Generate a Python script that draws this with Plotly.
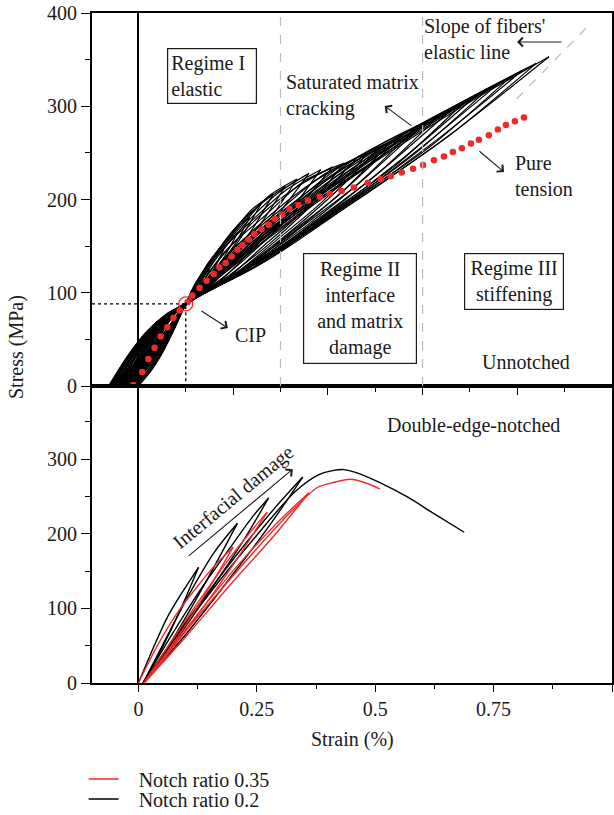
import plotly.graph_objects as go

FONT = "Liberation Serif"
INK = "#1a1a1a"

# ---------------- Unnotched (top panel) : hysteresis loops ----------------
# loading branches (residual strain -> peak), one cycle per line, None separates cycles
unnotched_load_strain = [
    0.000, 0.025, 0.050, 0.075, 0.1, 0.112, 0.125, 0.138, 0.150, None,
    -0.006, 0.021, 0.047, 0.074, 0.1, 0.128, 0.155, 0.183, 0.210, None,
    -0.012, 0.016, 0.044, 0.072, 0.1, 0.140, 0.180, 0.220, 0.260, None,
    -0.018, 0.012, 0.041, 0.071, 0.1, 0.153, 0.205, 0.258, 0.310, None,
    -0.024, 0.007, 0.038, 0.069, 0.1, 0.165, 0.230, 0.295, 0.360, None,
    -0.029, 0.003, 0.036, 0.068, 0.1, 0.178, 0.255, 0.333, 0.410, None,
    -0.034, -0.001, 0.033, 0.067, 0.1, 0.190, 0.280, 0.370, 0.460, None,
    -0.039, -0.004, 0.031, 0.065, 0.1, 0.203, 0.305, 0.408, 0.510, None,
    -0.043, -0.007, 0.029, 0.064, 0.1, 0.215, 0.330, 0.445, 0.560, None,
    -0.047, -0.011, 0.027, 0.063, 0.1, 0.228, 0.355, 0.483, 0.610, None,
    -0.051, -0.014, 0.025, 0.062, 0.1, 0.240, 0.380, 0.520, 0.660, None,
    -0.054, -0.017, 0.023, 0.062, 0.1, 0.253, 0.405, 0.558, 0.710, None,
    -0.057, -0.018, 0.022, 0.061, 0.1, 0.265, 0.430, 0.595, 0.760, None,
    -0.060, -0.020, 0.020, 0.060, 0.1, 0.278, 0.455, 0.633, 0.810, None,
    -0.063, -0.022, 0.019, 0.059, 0.1, 0.292, 0.484, 0.675, 0.867, None,
    # intermediate cycles
    -0.003, 0.023, 0.049, 0.074, 0.1, 0.120, 0.140, 0.160, 0.180, None,
    -0.009, 0.018, 0.046, 0.073, 0.1, 0.134, 0.168, 0.201, 0.235, None,
    -0.015, 0.014, 0.043, 0.071, 0.1, 0.146, 0.193, 0.239, 0.285, None,
    -0.021, 0.009, 0.040, 0.070, 0.1, 0.159, 0.218, 0.276, 0.335, None,
    -0.027, 0.005, 0.037, 0.068, 0.1, 0.171, 0.243, 0.314, 0.385, None,
    -0.032, 0.001, 0.034, 0.067, 0.1, 0.184, 0.268, 0.351, 0.435, None,
    -0.037, -0.003, 0.032, 0.066, 0.1, 0.196, 0.293, 0.389, 0.485, None,
    -0.041, -0.006, 0.030, 0.065, 0.1, 0.209, 0.318, 0.426, 0.535, None,
    -0.045, -0.009, 0.028, 0.064, 0.1, 0.221, 0.343, 0.464, 0.585, None,
    -0.049, -0.012, 0.026, 0.063, 0.1, 0.234, 0.368, 0.501, 0.635, None,
    -0.053, -0.014, 0.024, 0.062, 0.1, 0.246, 0.393, 0.539, 0.685, None,
    -0.056, -0.017, 0.022, 0.061, 0.1, 0.259, 0.418, 0.576, 0.735, None,
    -0.059, -0.019, 0.021, 0.060, 0.1, 0.271, 0.443, 0.614, 0.785, None,
    -0.062, -0.021, 0.019, 0.059, 0.1, 0.285, 0.470, 0.655, 0.840,
]
unnotched_load_stress = [
    0, 31, 57, 76, 89, 102, 113, 120, 125, None,
    0, 31, 57, 76, 89, 113, 135, 152, 165, None,
    0, 32, 57, 76, 89, 124, 154, 178, 196, None,
    0, 32, 58, 76, 89, 132, 167, 195, 214, None,
    0, 32, 58, 76, 89, 137, 176, 207, 228, None,
    0, 32, 58, 77, 89, 140, 182, 213, 235, None,
    0, 32, 58, 77, 89, 141, 184, 219, 244, None,
    0, 33, 58, 77, 89, 142, 188, 226, 256, None,
    0, 33, 58, 77, 89, 146, 195, 237, 270, None,
    0, 33, 58, 77, 89, 149, 202, 247, 284, None,
    0, 33, 58, 77, 89, 152, 208, 256, 296, None,
    0, 33, 59, 77, 89, 155, 214, 266, 310, None,
    0, 33, 59, 77, 89, 158, 221, 276, 324, None,
    0, 33, 59, 77, 89, 161, 227, 286, 338, None,
    0, 33, 59, 77, 89, 165, 235, 297, 353, None,
    0, 31, 57, 76, 89, 110, 125, 138, 146, None,
    0, 32, 57, 76, 89, 121, 145, 167, 181, None,
    0, 32, 58, 76, 89, 131, 161, 189, 206, None,
    0, 32, 58, 76, 89, 138, 172, 204, 222, None,
    0, 32, 58, 77, 89, 143, 179, 211, 232, None,
    0, 32, 58, 77, 89, 145, 183, 220, 239, None,
    0, 33, 58, 77, 89, 145, 186, 226, 250, None,
    0, 33, 58, 77, 89, 148, 192, 235, 263, None,
    0, 33, 58, 77, 89, 151, 199, 246, 277, None,
    0, 33, 58, 77, 89, 155, 205, 256, 290, None,
    0, 33, 59, 77, 89, 157, 211, 264, 303, None,
    0, 33, 59, 77, 89, 160, 218, 275, 317, None,
    0, 33, 59, 77, 89, 164, 225, 285, 331, None,
    0, 33, 59, 77, 89, 167, 231, 296, 346,
]
# unloading branches (peak -> residual strain)
unnotched_unload_strain = [
    0.150, 0.138, 0.125, 0.112, 0.1, 0.075, 0.050, 0.025, 0.000, None,
    0.210, 0.183, 0.155, 0.128, 0.1, 0.074, 0.047, 0.021, -0.006, None,
    0.260, 0.220, 0.180, 0.140, 0.1, 0.072, 0.044, 0.016, -0.012, None,
    0.310, 0.258, 0.205, 0.153, 0.1, 0.071, 0.041, 0.012, -0.018, None,
    0.360, 0.295, 0.230, 0.165, 0.1, 0.069, 0.038, 0.007, -0.024, None,
    0.410, 0.333, 0.255, 0.178, 0.1, 0.068, 0.036, 0.003, -0.029, None,
    0.460, 0.370, 0.280, 0.190, 0.1, 0.067, 0.033, -0.001, -0.034, None,
    0.510, 0.408, 0.305, 0.203, 0.1, 0.065, 0.031, -0.004, -0.039, None,
    0.560, 0.445, 0.330, 0.215, 0.1, 0.064, 0.029, -0.007, -0.043, None,
    0.610, 0.483, 0.355, 0.228, 0.1, 0.063, 0.027, -0.011, -0.047, None,
    0.660, 0.520, 0.380, 0.240, 0.1, 0.062, 0.025, -0.014, -0.051, None,
    0.710, 0.558, 0.405, 0.253, 0.1, 0.062, 0.023, -0.017, -0.054, None,
    0.760, 0.595, 0.430, 0.265, 0.1, 0.061, 0.022, -0.018, -0.057, None,
    0.810, 0.633, 0.455, 0.278, 0.1, 0.060, 0.020, -0.020, -0.060, None,
    0.867, 0.675, 0.484, 0.292, 0.1, 0.059, 0.019, -0.022, -0.063, None,
    # intermediate cycles
    0.180, 0.160, 0.140, 0.120, 0.1, 0.074, 0.049, 0.023, -0.003, None,
    0.235, 0.201, 0.168, 0.134, 0.1, 0.073, 0.046, 0.018, -0.009, None,
    0.285, 0.239, 0.193, 0.146, 0.1, 0.071, 0.043, 0.014, -0.015, None,
    0.335, 0.276, 0.218, 0.159, 0.1, 0.070, 0.040, 0.009, -0.021, None,
    0.385, 0.314, 0.243, 0.171, 0.1, 0.068, 0.037, 0.005, -0.027, None,
    0.435, 0.351, 0.268, 0.184, 0.1, 0.067, 0.034, 0.001, -0.032, None,
    0.485, 0.389, 0.293, 0.196, 0.1, 0.066, 0.032, -0.003, -0.037, None,
    0.535, 0.426, 0.318, 0.209, 0.1, 0.065, 0.030, -0.006, -0.041, None,
    0.585, 0.464, 0.343, 0.221, 0.1, 0.064, 0.028, -0.009, -0.045, None,
    0.635, 0.501, 0.368, 0.234, 0.1, 0.063, 0.026, -0.012, -0.049, None,
    0.685, 0.539, 0.393, 0.246, 0.1, 0.062, 0.024, -0.014, -0.053, None,
    0.735, 0.576, 0.418, 0.259, 0.1, 0.061, 0.022, -0.017, -0.056, None,
    0.785, 0.614, 0.443, 0.271, 0.1, 0.060, 0.021, -0.019, -0.059, None,
    0.840, 0.655, 0.470, 0.285, 0.1, 0.059, 0.019, -0.021, -0.062,
]
unnotched_unload_stress = [
    125, 112, 102, 93, 87, 60, 35, 15, 0, None,
    165, 140, 120, 102, 87, 60, 35, 15, 0, None,
    196, 162, 133, 108, 87, 59, 35, 15, 0, None,
    214, 174, 140, 111, 87, 59, 36, 16, 0, None,
    228, 184, 146, 114, 87, 59, 36, 16, 0, None,
    235, 189, 150, 116, 87, 59, 36, 16, 0, None,
    244, 196, 154, 118, 87, 59, 36, 16, 0, None,
    256, 204, 159, 120, 87, 59, 36, 16, 0, None,
    270, 215, 166, 124, 87, 59, 37, 17, 0, None,
    284, 225, 172, 127, 87, 59, 37, 17, 0, None,
    296, 234, 178, 130, 87, 59, 37, 17, 0, None,
    310, 244, 185, 133, 87, 60, 37, 17, 0, None,
    324, 255, 192, 137, 87, 60, 37, 17, 0, None,
    338, 265, 199, 140, 87, 60, 37, 17, 0, None,
    353, 276, 207, 144, 87, 60, 37, 17, 0, None,
    146, 126, 111, 97, 87, 60, 35, 15, 0, None,
    181, 150, 127, 103, 87, 59, 35, 15, 0, None,
    206, 167, 137, 108, 87, 59, 36, 16, 0, None,
    222, 178, 144, 111, 87, 59, 36, 16, 0, None,
    232, 184, 148, 112, 87, 59, 36, 16, 0, None,
    239, 189, 152, 114, 87, 59, 36, 16, 0, None,
    250, 198, 157, 117, 87, 59, 36, 16, 0, None,
    263, 206, 163, 119, 87, 59, 37, 17, 0, None,
    277, 217, 170, 122, 87, 59, 37, 17, 0, None,
    290, 226, 175, 125, 87, 59, 37, 17, 0, None,
    303, 235, 182, 128, 87, 60, 37, 17, 0, None,
    317, 246, 189, 131, 87, 60, 37, 17, 0, None,
    331, 256, 196, 135, 87, 60, 37, 17, 0, None,
    346, 268, 203, 139, 87, 60, 37, 17, 0,
]

# pure tension curve (red dots)
pure_strain = [-0.011, 0.008, 0.021, 0.034, 0.047, 0.061, 0.074, 0.087, 0.104, 0.114,
               0.129, 0.144, 0.159, 0.171, 0.184, 0.197, 0.209, 0.220, 0.233, 0.245,
               0.260, 0.275, 0.288, 0.303, 0.319, 0.338, 0.358, 0.383, 0.404, 0.429,
               0.455, 0.484, 0.512, 0.533, 0.556, 0.580, 0.601, 0.624, 0.645, 0.664,
               0.683, 0.702, 0.719, 0.740, 0.759, 0.776, 0.795, 0.814]
pure_stress = [1, 15, 29, 41, 53, 63, 73, 81, 90, 97,
               105, 113, 120, 127, 132, 139, 146, 151, 157, 163,
               168, 173, 179, 184, 190, 194, 199, 203, 206, 209,
               213, 218, 222, 225, 229, 233, 237, 242, 246, 251,
               255, 260, 264, 269, 275, 280, 284, 288]

cip_strain, cip_stress = 0.1, 88
regime_bounds = [0.3, 0.6]
fiber_line_strain = [0.799, 0.959]
fiber_line_stress = [308, 391]

# ---------------- Double-edge-notched (bottom panel) ----------------
notch02_strain = [
    0, 0.032, 0.061, 0.089, 0.127, None,
    0.127, 0.09, 0.05, 0.01, None,
    0.01, 0.06, 0.11, 0.16, 0.209, None,
    0.209, 0.16, 0.11, 0.06, 0.01, None,
    0.01, 0.07, 0.13, 0.19, 0.24, 0.275, None,
    0.275, 0.22, 0.15, 0.08, 0.01, None,
    0.01, 0.08, 0.15, 0.22, 0.29, 0.347, None,
    0.347, 0.28, 0.20, 0.10, 0.01, None,
    0.01, 0.09, 0.17, 0.25, 0.33, 0.38, 0.413, 0.434, 0.455, 0.512, 0.569, 0.624, 0.688,
]
notch02_stress = [
    0, 48, 88, 118, 155, None,
    155, 100, 47, 0, None,
    0, 62, 122, 175, 214, None,
    214, 156, 99, 46, 0, None,
    0, 64, 124, 178, 222, 248, None,
    248, 189, 122, 58, 0, None,
    0, 64, 124, 182, 236, 276, None,
    276, 214, 146, 65, 0, None,
    0, 70, 136, 198, 256, 279, 285, 286, 283, 268, 249, 227, 202,
]
notch035_strain = [
    0, 0.04, 0.08, 0.124, 0.165, 0.20, None,
    0.20, 0.15, 0.10, 0.05, 0.012, None,
    0.012, 0.07, 0.13, 0.19, 0.24, 0.272, None,
    0.272, 0.21, 0.14, 0.07, 0.012, None,
    0.012, 0.08, 0.15, 0.22, 0.30, 0.36, None,
    0.36, 0.29, 0.20, 0.10, 0.012, None,
    0.012, 0.09, 0.17, 0.25, 0.32, 0.378, 0.413, 0.448, 0.476, 0.51,
]
notch035_stress = [
    0, 50, 92, 129, 160, 182, None,
    182, 128, 78, 32, 0, None,
    0, 56, 112, 165, 205, 229, None,
    229, 168, 104, 45, 0, None,
    0, 56, 112, 165, 219, 255, None,
    255, 200, 136, 62, 0, None,
    0, 62, 122, 180, 228, 262, 269, 273, 269, 260,
]

RED = "#ee2a2a"
fig = go.Figure()

loop_line = dict(color="black", width=1.2, shape="spline", smoothing=0.8)
fig.add_trace(go.Scatter(x=unnotched_load_strain, y=unnotched_load_stress, mode="lines",
                         line=loop_line, showlegend=False, xaxis="x", yaxis="y", hoverinfo="skip"))
fig.add_trace(go.Scatter(x=unnotched_unload_strain, y=unnotched_unload_stress, mode="lines",
                         line=loop_line, showlegend=False, xaxis="x", yaxis="y", hoverinfo="skip"))
fig.add_trace(go.Scatter(x=[-0.098, cip_strain, cip_strain], y=[cip_stress, cip_stress, 0],
                         mode="lines", line=dict(color="black", width=1.3, dash="dot"),
                         showlegend=False, xaxis="x", yaxis="y"))
fig.add_trace(go.Scatter(x=fiber_line_strain, y=fiber_line_stress, mode="lines",
                         line=dict(color="#bbbbbb", width=1.2, dash="dash"),
                         showlegend=False, xaxis="x", yaxis="y"))
fig.add_trace(go.Scatter(x=pure_strain, y=pure_stress, mode="markers",
                         marker=dict(color=RED, size=6.5),
                         showlegend=False, xaxis="x", yaxis="y"))
fig.add_trace(go.Scatter(x=[cip_strain], y=[cip_stress], mode="markers",
                         marker=dict(symbol="circle-open", size=14, color=RED, line=dict(width=1.3)),
                         showlegend=False, xaxis="x", yaxis="y"))
fig.add_trace(go.Scatter(x=[cip_strain], y=[cip_stress], mode="markers",
                         marker=dict(size=3, color="black"),
                         showlegend=False, xaxis="x", yaxis="y"))

NB = "\u00a0\u00a0\u00a0"
fig.add_trace(go.Scatter(x=notch02_strain, y=notch02_stress, mode="lines",
                         line=dict(color="black", width=1.4, shape="spline", smoothing=0.8),
                         name=NB + "Notch ratio 0.2", legend="legend2", xaxis="x2", yaxis="y2"))
fig.add_trace(go.Scatter(x=notch035_strain, y=notch035_stress, mode="lines",
                         line=dict(color=RED, width=1.4, shape="spline", smoothing=0.8),
                         name=NB + "Notch ratio 0.35", legend="legend", xaxis="x2", yaxis="y2"))

SPLIT = (683 - 386) / 670
axis_common = dict(showgrid=False, showline=True, linecolor="black", linewidth=2, mirror=True,
                   tickcolor="black", tickwidth=1.3, tickfont=dict(family=FONT, size=20, color=INK))
xr = [-0.098, 1.0]

layout = dict(
    width=614, height=815,
    margin=dict(l=92, r=2, t=13, b=132, autoexpand=False),
    paper_bgcolor="white", plot_bgcolor="white",
    font=dict(family=FONT, size=20, color=INK),
    xaxis=dict(domain=[0, 1], anchor="y", range=xr, showticklabels=False, ticks="outside",
               tickmode="linear", tick0=0, dtick=0.2, ticklen=7,
               minor=dict(dtick=0.1, tick0=0, ticklen=4, ticks="outside", tickcolor="black"),
               zeroline=True, zerolinecolor="black", zerolinewidth=2, **axis_common),
    xaxis3=dict(overlaying="x", anchor="y", side="top", range=xr, showticklabels=False,
                ticks="inside", tickmode="linear", tick0=0, dtick=0.1, ticklen=6,
                showline=False, zeroline=False, showgrid=False, tickcolor="black", tickwidth=1.3),
    yaxis=dict(domain=[SPLIT, 1], anchor="x", range=[0, 400], ticks="outside",
               tickmode="linear", tick0=0, dtick=100, ticklen=9,
               minor=dict(dtick=50, ticklen=5, ticks="outside", tickcolor="black"),
               zeroline=False, **axis_common),
    xaxis2=dict(domain=[0, 1], anchor="y2", range=xr, ticks="outside",
                tickmode="array", tickvals=[0, 0.25, 0.5, 0.75, 1],
                ticktext=["0", "0.25", "0.5", "0.75", "1"], ticklen=7,
                minor=dict(tickvals=[0.125, 0.375, 0.625, 0.875], ticklen=4, ticks="outside",
                           tickcolor="black"),
                zeroline=True, zerolinecolor="black", zerolinewidth=2, **axis_common),
    yaxis2=dict(domain=[0, SPLIT], anchor="x2", range=[0, 398], ticks="outside",
                tickmode="array", tickvals=[0, 100, 200, 300], ticklen=9,
                minor=dict(tickvals=[50, 150, 250, 350], ticklen=5, ticks="outside",
                           tickcolor="black"),
                zeroline=False, **axis_common),
    yaxis3=dict(overlaying="y2", anchor="x2", side="right", range=[0, 398], ticks="inside",
                tickmode="linear", tick0=0, dtick=50, ticklen=5, showticklabels=False,
                showline=False, zeroline=False, showgrid=False, tickcolor="black"),
    legend=dict(x=-0.016, y=-0.1433, xanchor="left", yanchor="middle", bgcolor="rgba(0,0,0,0)",
                font=dict(family=FONT, size=20, color=INK), itemwidth=30),
    legend2=dict(x=-0.016, y=-0.1731, xanchor="left", yanchor="middle", bgcolor="rgba(0,0,0,0)",
                 font=dict(family=FONT, size=20, color=INK), itemwidth=30),
    showlegend=True,
)
fig.update_layout(**layout)

for xb in regime_bounds:
    fig.add_shape(type="line", xref="x", yref="y domain", x0=xb, x1=xb, y0=0, y1=1,
                  line=dict(color="#bbbbbb", width=1.2, dash="dash"))

ann = []
def text(x, y, s, xref="x", yref="y", **kw):
    d = dict(x=x, y=y, xref=xref, yref=yref, text=s, showarrow=False,
             xanchor="center", yanchor="middle",
             font=dict(family=FONT, size=20, color=INK))
    d.update(kw)
    ann.append(d)

def arrow(x0, y0, x1, y1, xref="x", yref="y"):
    ann.append(dict(x=x1, y=y1, ax=x0, ay=y0, xref=xref, yref=yref, axref=xref, ayref=yref,
                    text="", showarrow=True, arrowhead=4, arrowsize=1.6, arrowwidth=1.1,
                    arrowcolor=INK, standoff=0, startstandoff=0))

text(0.155, 332.6, "Regime I<br>elastic", align="left", bordercolor=INK, borderwidth=1.2,
     borderpad=3, width=82)
text(0.468, 82.6, "Regime II<br>interface<br>and matrix<br>damage", align="center",
     bordercolor=INK, borderwidth=1.2, borderpad=4, width=104)
text(0.793, 112.1, "Regime III<br>stiffening", align="center", bordercolor=INK,
     borderwidth=1.2, borderpad=3, width=92)
text(0.8184, 25.7, "Unnotched")
text(0.3074, 311.5, "Saturated matrix<br>cracking", xanchor="left", align="left")
text(0.598, 371.6, "Slope of fibers'<br>elastic line", xanchor="left", align="left")
text(0.7917, 225.7, "Pure<br>tension", xanchor="left", align="left")
text(0.200, 54.7, "CIP", xanchor="left")
arrow(0.130, 81.5, 0.189, 62.2)
arrow(0.580, 277.7, 0.520, 300.3)
arrow(0.8965, 368.9, 0.7994, 368.9)
arrow(0.717, 253.1, 0.772, 229.5)

text(0.7065, 345.5, "Double-edge-notched", xref="x2", yref="y2")
text(0.200, 248.4, "Interfacial damage", xref="x2", yref="y2", textangle=-39.6)
arrow(0.103, 168.7, 0.326, 286.6, xref="x2", yref="y2")

text(-0.1442, 0.5015, "Stress (MPa)", xref="paper", yref="paper", textangle=-90)
text(0.5, -0.085, "Strain (%)", xref="paper", yref="paper")

fig.update_layout(annotations=ann)
fig.write_html("out.html", config={"displayModeBar": False},
               post_script="document.body.style.margin='0px';")
